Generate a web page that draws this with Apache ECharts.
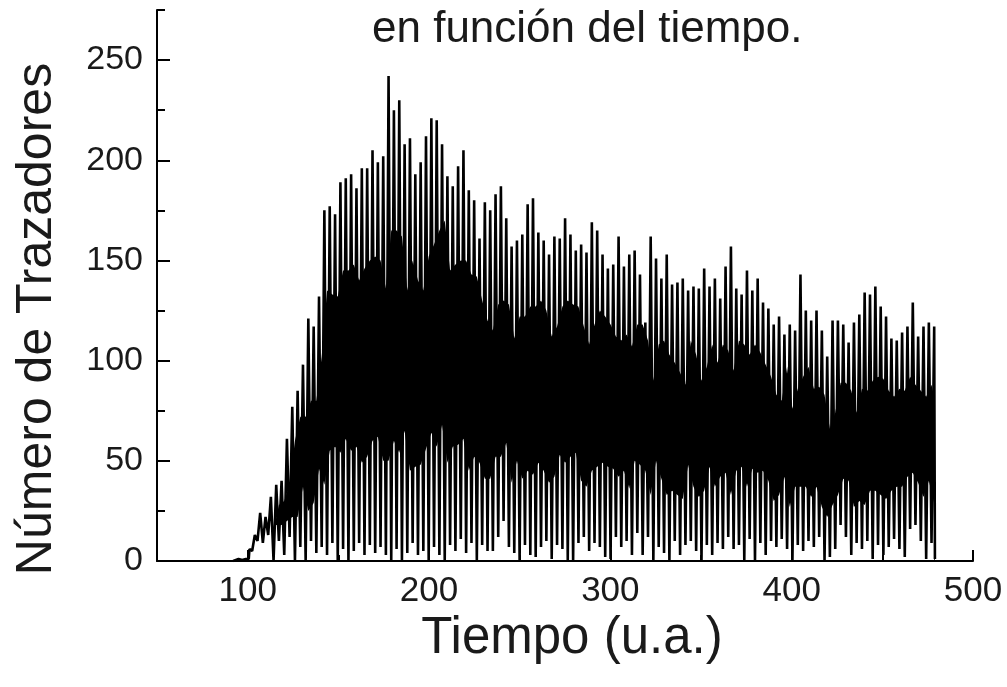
<!DOCTYPE html>
<html>
<head>
<meta charset="utf-8">
<style>html,body{margin:0;padding:0;background:#fff}#chart{width:1007px;height:687px}</style>
<script src="https://cdn.jsdelivr.net/npm/echarts@6/dist/echarts.min.js"></script>
</head>
<body>
<div id="chart"></div>
<script>
// values, one per oscillation of the trace
const peaks = [6,13,24,22,32,38,40,61,77,85,98,121,117,132,175,177,173,189,191,193,186,196,196,205,199,202,242,225,230,208,211,193,199,212,221,220,208,192,187,197,205,185,180,161,
  179,175,183,187,171,157,160,163,178,181,164,160,153,162,161,171,163,155,158,154,169,165,153,146,148,162,147,153,155,143,119,162,151,141,153,138,139,141,135,137,136,146,137,141,131,147,157,136,133,145,135,141,129,126,118,122,113,118,115,143,125,120,125,115,102,120,120,118,109,119,123,134,133,137,127,122,111,110,114,117,129,112,117,119,117];
const troughs = [5,10,9,13,0,10,3,12,0,7,0,10,4,7,3,9,0,6,0,5,9,3,8,4,7,3,0,6,0,4,9,3,5,0,7,3,0,8,5,11,4,9,0,8,
  5,5,12,20,7,4,0,8,3,2,7,10,1,8,6,0,0,9,12,5,9,7,2,1,12,7,10,3,14,3,12,0,7,4,0,10,3,8,10,5,0,8,3,9,6,12,6,8,0,11,0,9,3,10,7,11,6,0,8,5,10,7,12,0,2,6,18,12,3,9,6,10,1,8,3,7,11,6,2,16,18,10,1,9,1];
// edges of the solid black core
const coreTop = [0,0,0,0,15,28,30,38,60,72,72,80,80,102,135,133,132,145,145,148,140,146,150,152,150,136,165,165,162,135,150,140,135,152,158,165,170,145,148,150,150,143,142,130,
  120,115,128,130,128,111,122,122,127,127,130,125,112,117,127,130,128,127,117,108,118,125,122,118,112,110,113,107,118,118,110,90,108,110,103,99,94,88,110,103,90,97,108,99,108,105,95,110,108,103,108,104,98,92,83,80,97,76,86,92,97,86,87,83,66,74,89,89,85,74,86,85,90,92,91,85,82,86,85,92,88,85,82,88,80];
const coreBottom = [0,0,0,0,15,18,18,20,22,22,37,25,29,46,38,55,57,54,61,55,57,49,52,60,62,50,50,60,54,65,45,47,48,56,64,57,68,49,57,58,61,45,52,49,
  41,41,52,52,59,39,50,41,45,43,49,45,39,42,53,49,52,54,40,37,45,47,49,47,46,42,45,36,50,48,45,33,50,41,33,35,33,31,48,37,32,35,47,37,42,44,33,45,47,37,46,44,45,40,30,33,42,27,37,37,37,32,37,27,22,28,33,41,40,27,30,28,35,35,33,31,35,37,37,42,44,39,32,40,29];
// flat start of the trace before it rises
const leadTime = [92,95,97,99,100.6];
const leadValue = [0,1,0.5,1,1];

const firstTime = 101;
const period = 2.95;

const yMajorTicks = [0,50,100,150,200,250];
const yMinorTicks = [25,75,125,175,225,275];
const xMajorTicks = [100,200,300,400,500];
const xMinorTicks = [150,250,350,450];

const traceData = leadTime.map((t, i) => [t, leadValue[i]]);
peaks.forEach((p, i) => {
  traceData.push([firstTime + period * i, p]);
  traceData.push([Math.min(firstTime + period * (i + 0.5), 479), troughs[i]]);
});
const coreTopData = coreTop.map((v, i) => [Math.min(firstTime + period * (i + 0.5), 479), v]);
const coreBottomData = coreBottom.map((v, i) => [firstTime + period * i, v]);

const font = '"Liberation Sans", Arial, sans-serif';
const ink = '#1a1a1a';

let chart = echarts.init(document.getElementById('chart'), null, { renderer: 'canvas' });

const option = {
  backgroundColor: '#fff',
  animation: false,
  title: {
    text: 'en función del tiempo.',
    left: 367,
    top: 3,
    textStyle: { color: ink, fontFamily: font, fontWeight: 'normal', fontSize: 44 }
  },
  graphic: [{
    type: 'text',
    x: 37,
    y: 319,
    rotation: Math.PI / 2,
    style: {
      text: 'Número de Trazadores',
      fill: ink,
      font: '50px ' + font,
      align: 'center',
      verticalAlign: 'middle'
    }
  }],
  grid: { left: 157, top: 10, width: 816, height: 551 },
  xAxis: [{
    type: 'value',
    min: 50,
    max: 500,
    z: 5,
    name: 'Tiempo (u.a.)',
    nameLocation: 'middle',
    nameGap: 42,
    nameTextStyle: { color: ink, fontFamily: font, fontSize: 51, padding: [0, 0, 0, 14] },
    axisLine: { onZero: false, lineStyle: { color: '#000', width: 2 } },
    axisTick: { inside: true, length: 11, customValues: xMajorTicks, lineStyle: { color: '#000', width: 2 } },
    axisLabel: { customValues: xMajorTicks, color: ink, fontFamily: font, fontSize: 35, margin: 13 },
    splitLine: { show: false }
  }, {
    type: 'value',
    min: 50,
    max: 500,
    z: 5,
    position: 'bottom',
    axisLine: { show: false },
    axisTick: { inside: true, length: 6, customValues: xMinorTicks, lineStyle: { color: '#000', width: 2 } },
    axisLabel: { show: false },
    splitLine: { show: false }
  }],
  yAxis: [{
    type: 'value',
    min: 0,
    max: 275,
    z: 5,
    axisLine: { onZero: false, lineStyle: { color: '#000', width: 2 } },
    axisTick: { inside: true, length: 13, customValues: yMajorTicks, lineStyle: { color: '#000', width: 2 } },
    axisLabel: { customValues: yMajorTicks, color: ink, fontFamily: font, fontSize: 34, margin: 14 },
    splitLine: { show: false }
  }, {
    type: 'value',
    min: 0,
    max: 275,
    z: 5,
    position: 'left',
    axisLine: { show: false },
    axisTick: { inside: true, length: 8, customValues: yMinorTicks, lineStyle: { color: '#000', width: 2 } },
    axisLabel: { show: false },
    splitLine: { show: false }
  }],
  series: [{
    // solid core, black down to the axis then masked below coreBottom
    name: 'coreTop',
    type: 'line',
    data: coreTopData,
    showSymbol: false,
    lineStyle: { width: 0 },
    areaStyle: { color: '#000', opacity: 1 },
    z: 2
  }, {
    name: 'coreBottom',
    type: 'line',
    data: coreBottomData,
    showSymbol: false,
    lineStyle: { width: 0 },
    areaStyle: { color: '#fff', opacity: 1 },
    z: 3
  }, {
    name: 'Trazadores',
    type: 'line',
    data: traceData,
    showSymbol: false,
    sampling: false,
    lineStyle: { color: '#000', width: 2.6, join: 'bevel' },
    z: 4
  }]
};
chart.setOption(option);
</script>
</body>
</html>
